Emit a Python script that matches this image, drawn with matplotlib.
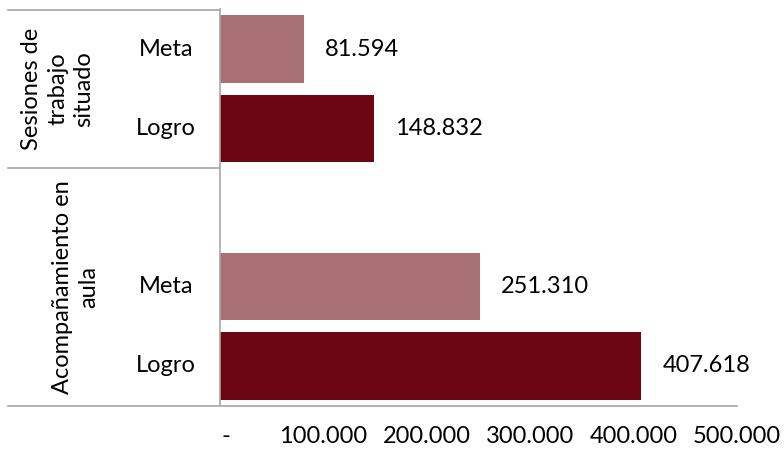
import numpy as np
import matplotlib.pyplot as plt
from matplotlib.lines import Line2D

# data
group_labels = ["Sesiones de\ntrabajo\nsituado", "Acompañamiento en\naula"]
cat_labels = ["Meta", "Logro", "", "Meta", "Logro"]
values = [81594, 148832, np.nan, 251310, 407618]
x_ticks = [0, 100000, 200000, 300000, 400000, 500000]

meta_color = "#A87073"
logro_color = "#6B0612"
line_color = "#A6A6A6"
fs = 17

plt.rcParams['font.family'] = ['Lato', 'DejaVu Sans']

W, H = 784, 449
fig = plt.figure(figsize=(W / 100, H / 100), dpi=100)

# axes box in pixel terms
x0, x1 = 220, 737
y_top, y_bot = 9.5, 405.5
ax = fig.add_axes([x0 / W, 1 - y_bot / H, (x1 - x0) / W, (y_bot - y_top) / H])

pos = np.arange(len(values))
colors = [meta_color if c == "Meta" else logro_color for c in cat_labels]
ax.barh(pos, values, height=0.85, color=colors)

for p, v in zip(pos, values):
    if np.isnan(v):
        continue
    ax.annotate(f"{v:,.0f}".replace(",", "."), (v, p), xytext=(15, 0),
                textcoords="offset points", va="center", ha="left", fontsize=fs)

ax.set_xlim(0, 500000)
ax.set_ylim(len(values) - 0.5, -0.5)
ax.set_xticks(x_ticks)
ax.set_xticklabels(["  -"] + [f"{t:,.0f}".replace(",", ".") for t in x_ticks[1:]])
ax.tick_params(axis="x", length=0, pad=15, labelsize=fs)
ax.set_yticks([])
for s in ["top", "right", "bottom"]:
    ax.spines[s].set_visible(False)
ax.spines["left"].set_color(line_color)
ax.spines["left"].set_linewidth(1.2)

# category table lines on the left
def hline(y, xa, xb):
    fig.add_artist(Line2D([xa / W, xb / W], [1 - y / H, 1 - y / H],
                          color=line_color, lw=1.2))

slot = (y_bot - y_top) / len(values)
hline(y_top, 8, x0)
hline(y_top + 2 * slot, 8, x0)
hline(y_bot, 8, x1)

# category labels
for p, c in zip(pos, cat_labels):
    if c:
        fig.text(166 / W, 1 - (y_top + (p + 0.5) * slot) / H, c,
                 ha="center", va="center", fontsize=fs)

# group labels
fig.text(58 / W, 1 - (y_top + slot) / H, group_labels[0], rotation=90,
         ha="center", va="center", fontsize=fs, multialignment="center",
         linespacing=1.3)
fig.text(76 / W, 1 - (y_top + 3.5 * slot) / H, group_labels[1], rotation=90,
         ha="center", va="center", fontsize=fs, multialignment="center",
         linespacing=1.3)

fig.savefig("out.png", dpi=100)
